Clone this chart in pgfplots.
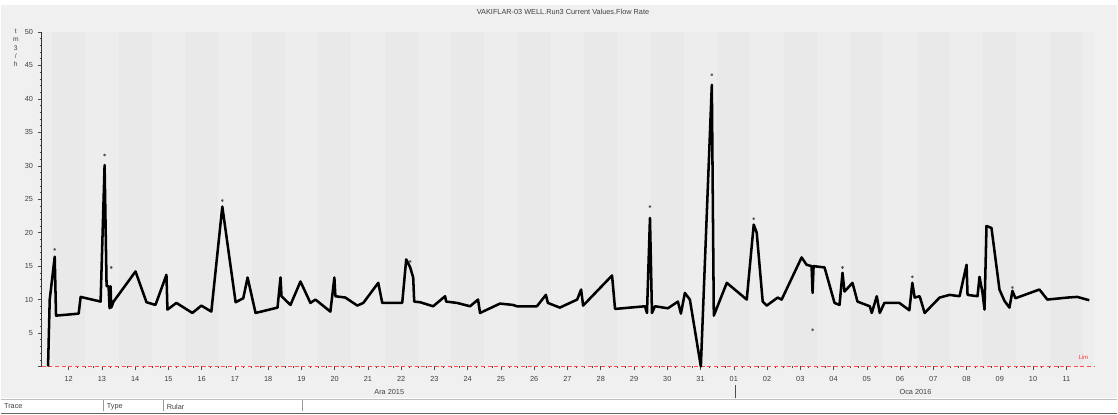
\documentclass[border=0pt]{standalone}
\usepackage{fontspec}
\setmainfont{Liberation Sans}
\usepackage{pgfplots}
\pgfplotsset{compat=1.18}
\definecolor{bgc}{HTML}{F0F0F0}
\definecolor{plotbg}{HTML}{EDEDED}
\definecolor{band}{HTML}{E9E9E9}
\begin{document}
\begin{tikzpicture}
\begin{scope}[x=0.75pt,y=0.75pt]
% page background
\fill[white] (0,0) rectangle (1118,415);
\fill[bgc] (0,16) rectangle (1118,410);
\draw[black!60, line width=1.2pt] (0,1) -- (1118,1);
\draw[black!25] (0,15) -- (1118,15);
\node[anchor=west, font=\fontsize{5.5}{6}\selectfont, text=black!75, inner sep=0] at (3,8) {Trace};
\draw[black!40] (103,3) -- (103,14);
\node[anchor=west, font=\fontsize{5.5}{6}\selectfont, text=black!75, inner sep=0] at (106,8) {Type};
\draw[black!40] (163,3) -- (163,14);
\node[anchor=west, font=\fontsize{5.5}{6}\selectfont, text=black!75, inner sep=0] at (166,8) {Rular};
\draw[black!40] (302,3) -- (302,14);
% title
\node[font=\fontsize{5.5}{6}\selectfont, text=black!75] at (563,403) {VAKIFLAR-03 WELL.Run3 Current Values.Flow Rate};
% y unit label
\node[align=center, font=\fontsize{5}{6.2}\selectfont, text=black!75, anchor=north, inner sep=0] at (15,386) {t\\m\\3\\/\\h};
% month labels
\node[font=\fontsize{5.5}{6}\selectfont, text=black!75] at (389,22) {Ara 2015};
\node[font=\fontsize{5.5}{6}\selectfont, text=black!75] at (916,22) {Oca 2016};
\draw[black!70] (736,16) -- (736,29);
\end{scope}
\begin{axis}[
  at={(30.75pt,36pt)}, anchor=south west,
  scale only axis, width=790.5pt, height=251.25pt,
  xmin=11.19, xmax=42.84, ymin=0, ymax=50,
  axis x line*=bottom, axis y line*=left,
  x axis line style={red!70, densely dashed, line width=0.5pt, -},
  y axis line style={black!80, line width=0.6pt, -},
  axis background/.style={fill=plotbg},
  xtick={12,...,42},
  xticklabels={12,13,14,15,16,17,18,19,20,21,22,23,24,25,26,27,28,29,30,31,01,02,03,04,05,06,07,08,09,10,11},
  minor x tick num=3,
  ytick={0,5,...,50},
  yticklabels={,5,10,15,20,25,30,35,40,45,50},
  minor y tick num=4,
  tick align=outside,
  major tick length=3pt, minor tick length=1.5pt,
  tick style={black!70, line width=0.4pt},
  tick label style={font=\fontsize{5.5}{6}\selectfont, text=black!75},
  xticklabel style={yshift=-1pt},
  /pgf/number format/assume math mode=true,
  clip=false,
]
\pgfplotsinvokeforeach{12,14,...,42}{
  \fill[band] (axis cs:#1-0.5,0) rectangle (axis cs:#1+0.5,50);
}
\draw[red!70, densely dashed, line width=0.5pt] (axis cs:11.19,0) -- (axis cs:42.84,0);
\node[text=red!80, font=\fontsize{4.5}{5}\selectfont, anchor=south east] at (axis cs:42.8,0.3) {Lim};
\addplot[black, line width=1.9pt, line join=round] coordinates {
(11.38,0) (11.43,10) (11.58,16.4) (11.62,7.6) (12.30,7.9) (12.36,10.4) (12.96,9.7)
(13.08,30.1) (13.14,12) (13.20,12) (13.23,8.7) (13.26,12) (13.28,8.8) (13.35,9.7)
(14.01,14.2) (14.34,9.6) (14.61,9.2) (14.94,13.7) (14.97,8.5) (15.24,9.5) (15.72,8.0)
(15.99,9.1) (16.29,8.2) (16.62,23.9) (17.02,9.6) (17.25,10.2) (17.38,13.3) (17.62,8.0)
(18.28,8.8) (18.37,13.3) (18.40,10.5) (18.67,9.2) (18.97,12.7) (19.27,9.5) (19.42,10)
(19.87,8.2) (19.99,13.3) (20.02,10.5) (20.32,10.3) (20.68,9.1) (20.86,9.5) (21.31,12.5)
(21.43,9.5) (22.03,9.5) (22.15,16) (22.27,14.8) (22.36,13.3) (22.39,9.7) (22.57,9.6)
(22.96,9.0) (23.32,10.5) (23.35,9.7) (23.68,9.5) (24.07,9.0) (24.31,10) (24.37,8.0)
(24.97,9.4) (25.36,9.2) (25.48,9.0) (26.08,9.0) (26.35,10.7) (26.41,9.5) (26.77,8.8)
(27.29,10) (27.41,11.5) (27.47,9.1) (28.34,13.6) (28.43,8.6) (29.33,9.0) (29.39,8.0)
(29.48,22.2) (29.54,8.0) (29.63,9.0) (30.02,8.7) (30.32,9.7) (30.41,7.9) (30.53,11)
(30.68,10) (31.01,0) (31.34,42.1) (31.40,7.6) (31.79,12.5) (32.39,10) (32.60,21.2)
(32.69,20) (32.87,9.7) (32.99,9.1) (33.32,10.3) (33.44,10) (34.04,16.3) (34.19,15.2)
(34.34,15) (34.37,11) (34.40,15) (34.73,14.8) (35.03,9.5) (35.18,9.2) (35.27,14)
(35.33,11.2) (35.57,12.5) (35.72,9.7) (36.09,9) (36.15,8) (36.30,10.5) (36.39,8)
(36.53,9.5) (36.98,9.5) (37.28,8.4) (37.37,12.5) (37.44,10.3) (37.59,10.5) (37.74,8)
(38.19,10.3) (38.49,10.7) (38.79,10.5) (39.00,15.2) (39.03,10.7) (39.33,10.5) (39.39,13.4)
(39.48,11) (39.54,8.5) (39.60,21) (39.75,20.7) (39.99,11.5) (40.14,9.8) (40.29,8.8)
(40.38,11.3) (40.47,10.2) (41.19,11.5) (41.43,10) (42.03,10.3) (42.33,10.4) (42.69,9.9)
};
\addplot[only marks, mark=asterisk, mark size=1pt, black!70] coordinates {
(11.58,17.5) (13.08,31.6) (13.28,14.8) (16.62,24.8) (22.27,15.7) (29.48,23.9)
(31.34,43.6) (32.60,22.1) (34.37,5.5) (35.27,14.8) (37.37,13.4) (40.38,11.8)
};
\end{axis}
\end{tikzpicture}
\end{document}
